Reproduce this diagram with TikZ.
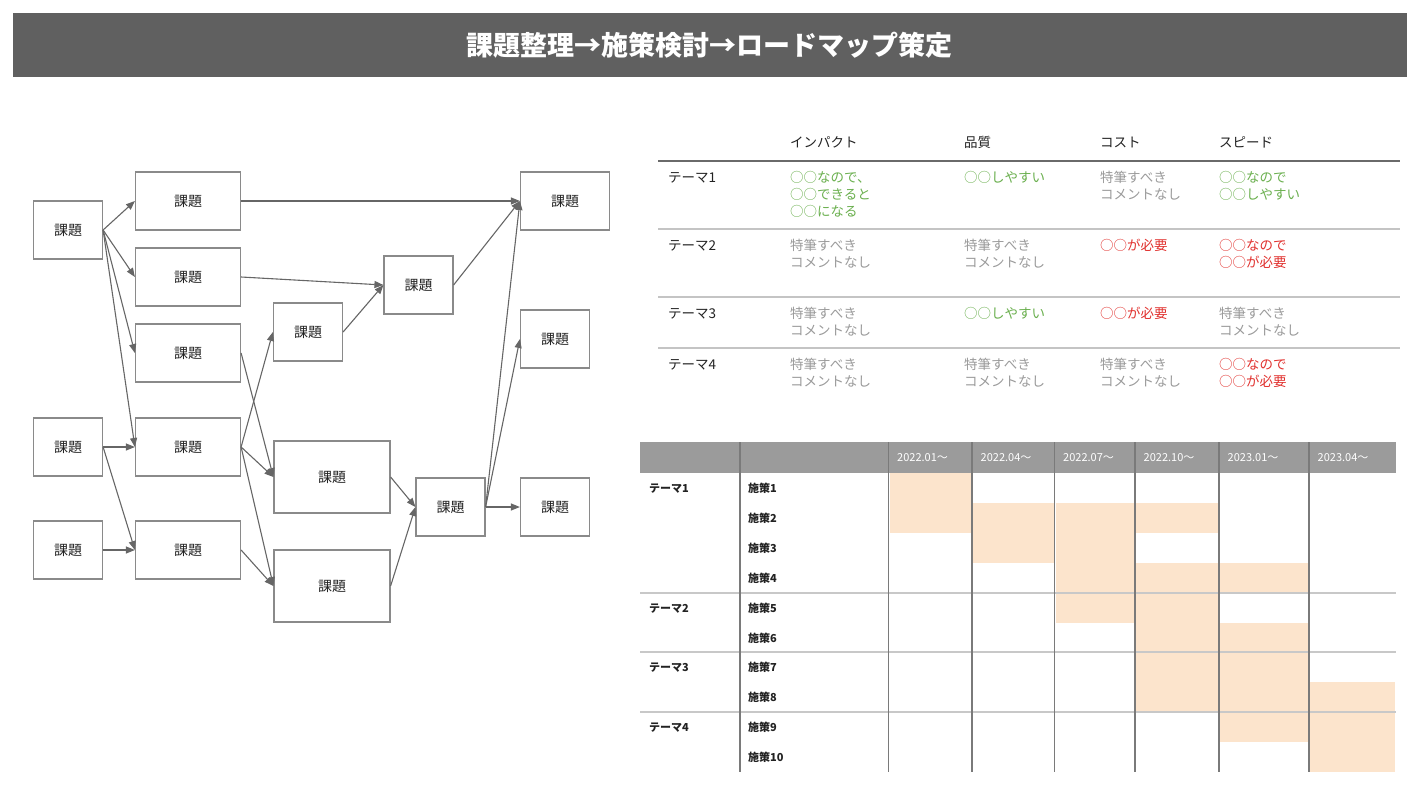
\documentclass[tikz,border=0pt]{standalone}
\usepackage{fontspec}
\setmainfont{Noto Sans CJK JP}
\usetikzlibrary{arrows.meta}
\definecolor{titlebg}{HTML}{606060}
\definecolor{boxline}{HTML}{8A8A8A}
\definecolor{edgec}{HTML}{666666}
\definecolor{txtc}{HTML}{222222}
\definecolor{okgreen}{HTML}{6AAF4E}
\definecolor{ngred}{HTML}{E0302D}
\definecolor{mutedgray}{HTML}{9A9A9A}
\definecolor{thickline}{HTML}{6A6A6A}
\definecolor{thinline}{HTML}{C4C4C4}
\definecolor{ganttHead}{HTML}{9B9B9B}
\definecolor{ganttFill}{HTML}{FCE4CC}
\definecolor{ganttVline}{HTML}{7A7A7A}
\definecolor{ganttHline}{HTML}{C8C8C8}
\begin{document}
\begin{tikzpicture}[x=1pt,y=-1pt,
  kbox/.style={draw=boxline, line width=1.2pt, fill=white, inner sep=0pt, minimum height=58pt, minimum width=69pt, text=txtc, font=\fontsize{14}{16}\selectfont},
  arr/.style={draw=edgec, line width=1.1pt, -{Triangle[length=9pt,width=7pt]}},
  hdr/.style={anchor=base west, inner sep=0pt, text=txtc, font=\fontsize{13.5}{17}\selectfont},
  cell/.style={anchor=base west, inner sep=0pt, align=left, font=\fontsize{13.5}{17}\selectfont},
  gcell/.style={cell, text=okgreen},
  rcell/.style={cell, text=ngred},
  ncell/.style={cell, text=mutedgray},
  glabel/.style={anchor=base west, inner sep=0pt, text=txtc, font=\bfseries\fontsize{11}{13}\selectfont},
  ghead/.style={anchor=base west, inner sep=0pt, text=white, font=\fontsize{11}{13}\selectfont}
]
\useasboundingbox (0,0) rectangle (1420,794);
% title
\fill[titlebg] (13,13) rectangle (1407,77);
\node[text=white, font=\bfseries\fontsize{27}{30}\selectfont, inner sep=0pt] (title) at (709,45) {課題整理→施策検討→ロードマップ策定};

% left graph
\node[kbox] (L1) at (68,230) {課題};
\node[kbox] (L2) at (68,447) {課題};
\node[kbox] (L3) at (68,550) {課題};
\node[kbox, minimum width=105pt] (M1) at (188,201) {課題};
\node[kbox, minimum width=105pt] (M2) at (188,277) {課題};
\node[kbox, minimum width=105pt] (M3) at (188,353) {課題};
\node[kbox, minimum width=105pt] (M4) at (188,447) {課題};
\node[kbox, minimum width=105pt] (M5) at (188,550) {課題};
\node[kbox] (P1) at (308,332) {課題};
\node[kbox] (P2) at (418.5,285) {課題};
\node[kbox, minimum width=116pt, minimum height=72pt] (Q1) at (332,477) {課題};
\node[kbox, minimum width=116pt, minimum height=72pt] (Q2) at (332,586) {課題};
\node[kbox] (R) at (450.5,507) {課題};
\node[kbox, minimum width=89pt] (T1) at (565,201) {課題};
\node[kbox] (T2) at (555,339) {課題};
\node[kbox] (T3) at (555,507) {課題};

\draw[arr] (L1.east) -- (M1.west);
\draw[arr] (L1.east) -- (M2.west);
\draw[arr] (L1.east) -- (M3.west);
\draw[arr] (L1.east) -- (M4.west);
\draw[arr] (L2.east) -- (M4.west);
\draw[arr] (L2.east) -- (M5.west);
\draw[arr] (L3.east) -- (M5.west);
\draw[arr] (M1.east) -- (T1.west);
\draw[arr] (M2.east) -- (P2.west);
\draw[arr] (M3.east) -- (Q1.west);
\draw[arr] (M4.east) -- (P1.west);
\draw[arr] (M4.east) -- (Q1.west);
\draw[arr] (M4.east) -- (Q2.west);
\draw[arr] (M5.east) -- (Q2.west);
\draw[arr] (P1.east) -- (P2.west);
\draw[arr] (P2.east) -- (T1.west);
\draw[arr] (Q1.east) -- (R.west);
\draw[arr] (Q2.east) -- (R.west);
\draw[arr] (R.east) -- (T1.west);
\draw[arr] (R.east) -- (T2.west);
\draw[arr] (R.east) -- (T3.west);

% evaluation table
\node[hdr] (h1) at (790,147.5) {インパクト};
\node[hdr] (h2) at (964,147.5) {品質};
\node[hdr] (h3) at (1100,147.5) {コスト};
\node[hdr] (h4) at (1219,147.5) {スピード};
\draw[thickline, line width=2pt] (658,161) -- (1400,161);
\draw[thinline, line width=1.3pt] (658,229) -- (1400,229);
\draw[thinline, line width=1.3pt] (658,297) -- (1400,297);
\draw[thinline, line width=1.3pt] (658,348) -- (1400,348);

\node[hdr] (r1) at (668,182.5) {テーマ1};
\node[hdr] (r2) at (668,250.5) {テーマ2};
\node[hdr] (r3) at (668,318.5) {テーマ3};
\node[hdr] (r4) at (668,369.5) {テーマ4};

% multi-line nodes: base anchor = baseline of last line (line pitch 17)
\node[gcell] (c11) at (790,216.5) {○○なので、\\○○できると\\○○になる};
\node[gcell] (c12) at (964,182.5) {○○しやすい};
\node[ncell] (c13) at (1100,199.5) {特筆すべき\\コメントなし};
\node[gcell] (c14) at (1219,199.5) {○○なので\\○○しやすい};

\node[ncell] (c21) at (790,267.5) {特筆すべき\\コメントなし};
\node[ncell] (c22) at (964,267.5) {特筆すべき\\コメントなし};
\node[rcell] (c23) at (1100,250.5) {○○が必要};
\node[rcell] (c24) at (1219,267.5) {○○なので\\○○が必要};

\node[ncell] (c31) at (790,335.5) {特筆すべき\\コメントなし};
\node[gcell] (c32) at (964,318.5) {○○しやすい};
\node[rcell] (c33) at (1100,318.5) {○○が必要};
\node[ncell] (c34) at (1219,335.5) {特筆すべき\\コメントなし};

\node[ncell] (c41) at (790,386.5) {特筆すべき\\コメントなし};
\node[ncell] (c42) at (964,386.5) {特筆すべき\\コメントなし};
\node[ncell] (c43) at (1100,386.5) {特筆すべき\\コメントなし};
\node[rcell] (c44) at (1219,386.5) {○○なので\\○○が必要};

% gantt chart
\fill[ganttHead] (640,442) rectangle (1396,473);
\foreach \r/\xa/\xb in {0/888.5/972, 1/888.5/972, 1/972/1054.5, 1/1054.5/1135, 1/1135/1219,
  2/972/1054.5, 2/1054.5/1135, 3/1054.5/1135, 3/1135/1219, 3/1219/1309,
  4/1054.5/1135, 4/1135/1219, 5/1135/1219, 5/1219/1309, 6/1135/1219, 6/1219/1309,
  7/1135/1219, 7/1219/1309, 7/1309/1396, 8/1219/1309, 8/1309/1396, 9/1309/1396}
  \fill[ganttFill] (\xa+1,{473+29.9*\r}) rectangle (\xb-1,{473+29.9*(\r+1)});
\foreach \y in {592.6, 652.4, 712.2}
  \draw[ganttHline, line width=2pt] (640,\y) -- (1396,\y);
\foreach \x in {740, 888.5, 972, 1054.5, 1135, 1219, 1309}
  \draw[ganttVline, line width=1.5pt] (\x,442) -- (\x,772);
\foreach \x/\t [count=\i] in {888.5/2022.01〜, 972/2022.04〜, 1054.5/2022.07〜, 1135/2022.10〜, 1219/2023.01〜, 1309/2023.04〜}
  \node[ghead] (gh\i) at (\x+8.5,461.5) {\t};
\node[glabel] (gt1) at (649,492.5) {テーマ1};
\node[glabel] (gt2) at (649,612) {テーマ2};
\node[glabel] (gt3) at (649,671.8) {テーマ3};
\node[glabel] (gt4) at (649,731.6) {テーマ4};
\foreach \i in {1,...,10}
  \node[glabel] (gs\i) at (748,{473+29.9*(\i-1)+19.5}) {施策\i};
\end{tikzpicture}
\end{document}
